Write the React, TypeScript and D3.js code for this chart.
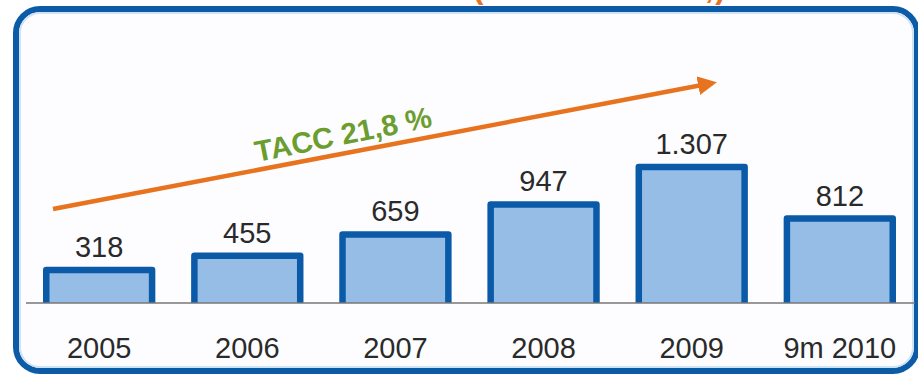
import React from "react";
import * as d3 from "d3";

const categories = ["2005", "2006", "2007", "2008", "2009", "9m 2010"];
const values = [318, 455, 659, 947, 1307, 812];
const valueLabels = ["318", "455", "659", "947", "1.307", "812"];
const trendLabel = "TACC 21,8 %";
const topTitle = "(millones de €,)";

const W = 918;
const H = 376;
const axisY = 303;
const font = "'Liberation Sans', Arial, sans-serif";

export default function App() {
  const x = d3
    .scaleBand<string>()
    .domain(categories)
    .range([24, 915])
    .paddingInner(0.245)
    .paddingOuter(0.13);
  const y = d3.scaleLinear().domain([0, 1307]).range([axisY, axisY - 136]);

  const bw = x.bandwidth();
  const arrowStart: [number, number] = [53, 209];
  const arrowEnd: [number, number] = [702, 85];
  const ang = (Math.atan2(arrowEnd[1] - arrowStart[1], arrowEnd[0] - arrowStart[0]) * 180) / Math.PI;

  return (
    <svg
      width={W}
      height={H}
      style={{ position: "absolute", left: 0, top: 0, background: "#fff" }}
    >
      <defs>
        <marker
          id="ah"
          viewBox="0 0 10 10"
          refX="2"
          refY="5"
          markerWidth="4.2"
          markerHeight="4.2"
          markerUnits="strokeWidth"
          orient="auto"
        >
          <path d="M0,0 L10,5 L0,10 Z" fill="#e8731f" />
        </marker>
      </defs>
      <text
        x={473}
        y={-2}
        fontFamily={font}
        fontWeight="bold"
        fontSize={31}
        letterSpacing={1.8}
        fill="#e8731f"
      >
        {topTitle}
      </text>
      {/* frame */}
      <rect x={16} y={9} width={901} height={362} rx={24} fill="#fdfdff" stroke="#0b5ba7" strokeWidth={6} />
      <rect x={20} y={13} width={893} height={354} rx={20} fill="none" stroke="#cfe3f5" strokeWidth={2} />

      {/* bars */}
      {categories.map((c, i) => {
        const x0 = x(c)! + 3;
        const x1 = x(c)! + bw - 3;
        const yt = y(values[i]);
        return (
          <g key={c}>
            <rect x={x0} y={yt} width={x1 - x0} height={axisY - yt} fill="#95bde6" />
            <path
              d={`M${x0},${axisY} L${x0},${yt} L${x1},${yt} L${x1},${axisY}`}
              fill="none"
              stroke="#0b5aa8"
              strokeWidth={6.5}
              strokeLinejoin="round"
            />
            <text
              x={x(c)! + bw / 2}
              y={yt - 13}
              textAnchor="middle"
              fontFamily={font}
              fontSize={29}
              fill="#2a2a2a"
            >
              {valueLabels[i]}
            </text>
            <text
              x={x(c)! + bw / 2}
              y={358}
              textAnchor="middle"
              fontFamily={font}
              fontSize={29}
              fill="#2a2a2a"
            >
              {c}
            </text>
          </g>
        );
      })}

      {/* axis */}
      <line x1={26} x2={915} y1={axisY} y2={axisY} stroke="#777" strokeWidth={1.6} />

      {/* trend arrow */}
      <line
        x1={arrowStart[0]}
        y1={arrowStart[1]}
        x2={arrowEnd[0]}
        y2={arrowEnd[1]}
        stroke="#e8731f"
        strokeWidth={4.5}
        markerEnd="url(#ah)"
      />
      <text
        x={257}
        y={162}
        transform={`rotate(${ang - 0.5}, 257, 162)`}
        fontFamily={font}
        fontWeight="bold"
        fontSize={29.5}
        fill="#6c9d2f"
      >
        {trendLabel}
      </text>
    </svg>
  );
}
